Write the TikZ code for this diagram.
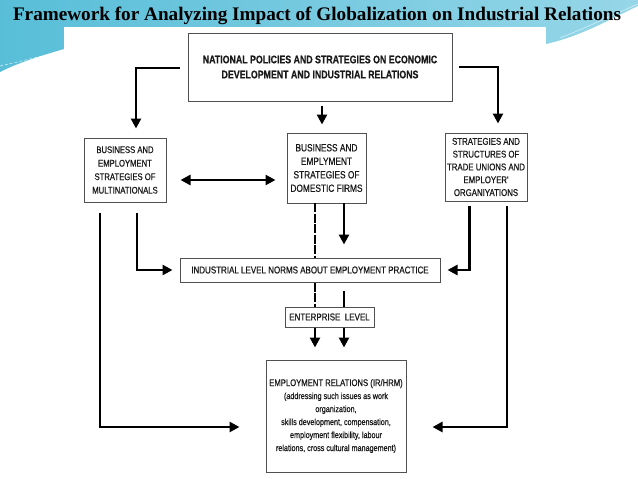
\documentclass[tikz,border=0pt]{standalone}
\usepackage{fontspec}
\setmainfont{Liberation Serif}
\newfontfamily\narrowfont[FakeStretch=0.8,FakeBold=0.6]{Liberation Sans}
\usetikzlibrary{arrows.meta,calc}
\definecolor{cyanA}{RGB}{88,190,216}
\definecolor{cyanB}{RGB}{150,214,232}
\definecolor{boxline}{RGB}{80,80,80}
\begin{document}
\begin{tikzpicture}[x=1pt,y=-1pt,
  box/.style={draw=boxline,line width=1pt,fill=white,inner sep=0pt,align=center,text=black!90},
  conn/.style={line width=2.5pt,black},
  arr/.style={conn,-{Triangle[length=10pt,width=10pt]}},
  darr/.style={conn,{Triangle[length=10pt,width=10pt]}-{Triangle[length=10pt,width=10pt]}},
  dash line/.style={line width=2.2pt,black,dash pattern=on 9pt off 1.5pt}]
\useasboundingbox (0,0) rectangle (638,479);
% background
\fill[white] (0,0) rectangle (638,479);
\shade[left color=cyanA,right color=cyanB] (0,0) -- (638,0) -- (638,6) .. controls (612,18) and (582,36) .. (546,44) -- (64,44) -- (64,49) .. controls (40,56) and (20,62) .. (0,72) -- cycle;
\draw[white,opacity=0.7,line width=0.6pt,dash pattern=on 3pt off 2pt] (0,66) -- (64,51);
\draw[white,opacity=0.6,line width=0.6pt] (560,38) .. controls (590,26) and (615,14) .. (638,4);
\fill[white] (64,27) rectangle (546,479);
% title
\node[font=\bfseries\fontsize{19.2}{21}\selectfont] (title) at (317,16) {Framework for Analyzing Impact of Globalization on Industrial Relations};
% boxes
\node[box,minimum width=264pt,minimum height=68pt,font=\narrowfont\bfseries\fontsize{11}{15}\selectfont] (top) at (320,67)
  {NATIONAL POLICIES AND STRATEGIES ON ECONOMIC\\DEVELOPMENT AND INDUSTRIAL RELATIONS};
\node[box,minimum width=82pt,minimum height=64pt,font=\narrowfont\fontsize{9.6}{13.5}\selectfont] (mnc) at (125,170)
  {BUSINESS AND\\EMPLOYMENT\\STRATEGIES OF\\MULTINATIONALS};
\node[box,minimum width=79pt,minimum height=70pt,font=\narrowfont\fontsize{10.4}{13.5}\selectfont] (dom) at (326.5,168)
  {BUSINESS AND\\EMPLYMENT\\STRATEGIES OF\\DOMESTIC FIRMS};
\node[box,minimum width=82pt,minimum height=68pt,font=\narrowfont\fontsize{9.8}{12.8}\selectfont] (tu) at (486,167)
  {STRATEGIES AND\\STRUCTURES OF\\TRADE UNIONS AND\\EMPLOYER'\\ORGANIYATIONS};
\node[box,minimum width=260pt,minimum height=24pt,font=\narrowfont\fontsize{10}{12}\selectfont] (ind) at (310,270)
  {INDUSTRIAL LEVEL NORMS ABOUT EMPLOYMENT PRACTICE};
\node[box,minimum width=89pt,minimum height=20pt,font=\narrowfont\fontsize{10}{12}\selectfont] (ent) at (329.5,317)
  {ENTERPRISE\ \ LEVEL};
\node[box,minimum width=140pt,minimum height=112pt,font=\narrowfont\fontsize{9}{13}\selectfont] (er) at (336,416)
  {{\fontsize{9.6}{13}\selectfont EMPLOYMENT RELATIONS (IR/HRM)}\\(addressing such issues as work\\organization,\\skills development, compensation,\\employment flexibility, labour\\relations, cross cultural management)};
% connectors from top box
\coordinate (tl) at ($(top.west)+(-8,1)$);
\coordinate (ml) at ($(mnc.north)+(11,-9)$);
\draw[arr] (tl) -| (ml);
\coordinate (ts) at ($(top.south)+(2,4)$);
\coordinate (md) at ($(dom.north)+(-4.5,-8)$);
\draw[arr] (ts) -- (ts |- md);
\coordinate (tr) at ($(top.east)+(6,0)$);
\coordinate (rt) at ($(tu.north)+(12,-9)$);
\draw[arr] (tr) -| (rt);
% double arrow
\draw[darr] ($(mnc.east)+(14,10)$) -- ($(dom.west)+(-11,12)$);
% left connectors
\coordinate (l1) at ($(mnc.south)+(-25,10)$);
\draw[arr] (l1) |- ($(er.west)+(-26,11)$);
\coordinate (l2) at ($(mnc.south)+(12,10)$);
\draw[arr] (l2) |- ($(ind.west)+(-7,0)$);
% right connectors
\coordinate (r1) at ($(tu.south)+(-16.5,4)$);
\draw[arr] (r1) |- ($(ind.east)+(7,0)$);
\coordinate (r2) at ($(tu.south)+(21,4)$);
\draw[arr] (r2) |- ($(er.east)+(26,11)$);
% middle connectors
\coordinate (d1) at (315,203);
\draw[dash line] (d1) -- (d1 |- ind.north);
\draw[dash line] (d1 |- ind.south) -- (d1 |- ent.north);
\coordinate (d2) at (344,203);
\draw[arr] (d2) -- ($(d2 |- ind.north)+(0,-13)$);
\draw[conn] ($(d2 |- ind.south)+(0,8)$) -- (d2 |- ent.north);
\draw[arr] (d1 |- ent.south) -- ($(d1 |- er.north)+(0,-12)$);
\draw[arr] (d2 |- ent.south) -- ($(d2 |- er.north)+(0,-12)$);
\end{tikzpicture}
\end{document}
